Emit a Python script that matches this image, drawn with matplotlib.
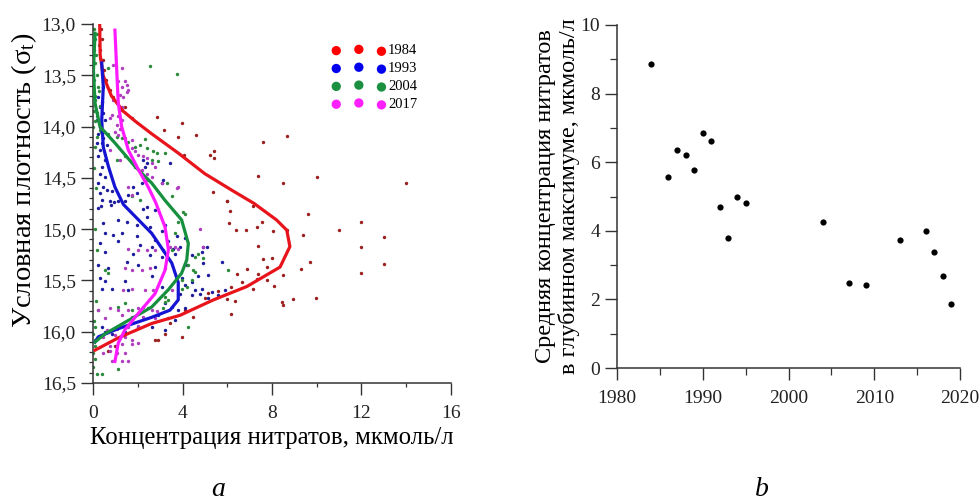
import matplotlib.pyplot as plt
from matplotlib.ticker import MultipleLocator, FuncFormatter

plt.rcParams['font.family'] = ['Liberation Serif', 'DejaVu Serif']
plt.rcParams['mathtext.fontset'] = 'stix'

# ---- panel a: curves (concentration x, density y) ----
red_line_y = [13.0, 13.3, 13.5, 13.7, 13.85, 13.95, 14.07, 14.26, 14.46, 14.62, 14.75, 14.91,
              15.01, 15.17, 15.37, 15.56, 15.69, 15.84, 15.92, 16.06, 16.18]
red_line_x = [0.3, 0.32, 0.45, 0.82, 1.35, 1.9, 2.62, 3.82, 5.0, 6.2, 7.2, 8.2,
              8.66, 8.8, 8.36, 6.87, 5.38, 3.89, 2.62, 1.13, 0.09]
blue_line_y = [13.38, 13.61, 13.94, 14.2, 14.39, 14.59, 14.76, 15.04, 15.33, 15.52, 15.69,
               15.79, 15.86, 15.97, 16.05, 16.1]
blue_line_x = [0.39, 0.46, 0.39, 0.46, 0.69, 0.98, 1.36, 2.62, 3.52, 3.81, 3.81,
               3.44, 2.62, 1.13, 0.24, 0.09]
green_line_y = [13.09, 13.45, 13.77, 14.0, 14.16, 14.39, 14.55, 14.72, 14.91, 15.14, 15.3,
                15.43, 15.59, 15.76, 15.89, 16.02, 16.1]
green_line_x = [0.09, 0.02, 0.09, 0.31, 0.98, 1.88, 2.62, 3.22, 3.96, 4.26, 4.19,
                3.96, 3.37, 2.62, 1.58, 0.54, 0.09]
mag_line_y = [13.06, 13.45, 13.77, 14.0, 14.23, 14.42, 14.59, 14.74, 14.98, 15.2, 15.4,
              15.63, 15.82, 15.98, 16.11, 16.29]
mag_line_x = [0.98, 1.06, 1.13, 1.28, 1.58, 2.03, 2.47, 2.8, 3.22, 3.37, 3.22,
              2.77, 2.03, 1.43, 1.13, 0.98]

# ---- panel a: measurements ----
red_x = [0.35, 0.4, 0.3, 0.45, 0.5, 0.6, 0.76, 0.91, 1.28, 1.43, 1.73, 2.85, 3.19, 3.99, 3.82,
         4.59, 5.23, 5.41, 5.41, 4.08, 7.62, 7.39, 5.38, 5.98, 8.69, 13.99, 9.99, 8.48,
         6.12, 7.16, 9.6, 6.09, 7.57, 11.99, 6.37, 6.82, 7.31, 8.06, 8.66, 10.99, 9.37, 12.99,
         7.39, 11.99, 7.6, 7.99, 9.7, 12.99, 6.87, 7.76, 9.31, 6.45, 7.39, 8.51, 11.99,
         6.64, 7.31, 7.76, 8.1, 6.16, 7.16, 5.15, 5.97, 6.34, 8.96, 9.97, 8.43, 8.51, 6.16,
         5.0, 5.6, 4.48, 3.43, 2.76, 3.96, 4.11, 3.22, 2.92, 0.98, 0.69, 5.97]
red_y = [13.05, 13.15, 13.25, 13.35, 13.45, 13.55, 13.64, 13.71, 13.84, 13.81, 13.92, 13.91,
         14.03, 13.97, 14.1, 14.08, 14.28, 14.24, 14.31, 14.28, 14.15, 14.48, 14.64, 14.73,
         14.09, 14.55, 14.49, 14.55, 14.82, 14.77, 14.85, 14.94, 14.93, 14.93, 15.01, 15.01,
         14.98, 15.02, 15.01, 15.01, 15.06, 15.08, 15.16, 15.17, 15.29, 15.28, 15.32, 15.34,
         15.39, 15.37, 15.39, 15.44, 15.44, 15.45, 15.43, 15.52, 15.49, 15.5, 15.55, 15.56,
         15.58, 15.62, 15.68, 15.7, 15.68, 15.67, 15.71, 15.74, 15.83, 15.67, 15.6, 15.86,
         15.92, 16.08, 16.05, 15.79, 16.02, 16.08, 16.14, 16.19, 14.73]

blue_x = [0.39, 0.46, 0.24, 0.39, 0.31, 0.46, 0.54, 0.16, 0.31, 0.24, 0.46, 0.16, 0.39, 0.61,
          0.31, 0.24, 0.54, 0.39, 0.31, 0.54, 0.24, 0.46, 0.61, 0.31, 0.83, 0.39, 0.76, 1.13,
          2.25, 2.4, 2.32, 3.44, 3.14, 3.07, 2.18, 1.8, 1.95, 1.58, 1.43,
          0.24, 0.36, 0.8, 0.95, 2.25, 2.4, 2.77, 2.4, 1.13, 1.51, 0.46, 1.95, 2.55, 3.07, 3.22,
          0.54, 0.91, 1.28, 1.95, 2.77, 3.37, 3.74, 4.11, 0.31, 1.13, 2.1, 2.62, 3.14, 3.59,
          3.89, 4.93, 5.08, 0.54, 1.8, 2.55, 3.07, 3.67, 4.41, 4.86, 0.24, 0.69, 1.51, 2.03,
          2.77, 4.19, 4.93, 5.75, 0.31, 0.54, 1.43, 2.62, 3.96, 4.71, 5.16, 0.39, 0.83, 1.58,
          3.07, 4.11, 4.41, 4.56, 4.86, 5.31, 5.9, 3.89, 4.41, 4.78, 5.16, 5.6, 3.22, 3.52,
          3.81, 4.11, 2.92, 3.37, 3.67, 2.62, 3.22, 0.39, 0.54, 0.24, 0.83, 1.43, 2.03]
blue_y = [13.48, 13.61, 13.71, 13.76, 13.81, 13.87, 13.94, 13.94, 14.0, 14.07, 14.11, 14.16,
          14.16, 14.18, 14.23, 14.29, 14.33, 14.39, 14.46, 14.49, 14.55, 14.59, 14.62, 14.65,
          14.63, 14.72, 14.73, 14.73, 14.33, 14.36, 14.39, 14.36, 14.52, 14.55, 14.55, 14.59,
          14.65, 14.67, 14.73,
          14.79, 14.77, 14.76, 14.74, 14.8, 14.78, 14.81, 14.88, 14.91, 14.93, 14.94, 14.96,
          14.98, 15.02, 14.96, 15.04, 15.06, 15.04, 15.07, 15.11, 15.12, 15.07, 15.09, 15.14,
          15.12, 15.15, 15.17, 15.2, 15.19, 15.17, 15.17, 15.17, 15.22, 15.24, 15.25, 15.27,
          15.24, 15.25, 15.22, 15.35, 15.38, 15.32, 15.35, 15.37, 15.35, 15.33, 15.32, 15.48,
          15.51, 15.51, 15.46, 15.48, 15.46, 15.45, 15.58, 15.58, 15.59, 15.56, 15.54, 15.52,
          15.59, 15.58, 15.61, 15.59, 15.63, 15.64, 15.63, 15.67, 15.64, 15.72, 15.76, 15.79,
          15.77, 15.84, 15.87, 15.89, 15.95, 15.98, 15.95, 16.0, 16.05, 16.02, 16.0, 15.95]

green_x = [2.55, 3.74, 0.69, 0.24, 0.09, 0.16, 0.01, 0.31, 0.69, 1.06, 1.28, 1.58, 1.88, 2.32,
           2.1, 2.4, 2.7, 2.85, 3.22, 2.62, 2.92, 3.29, 3.52, 2.1, 1.73, 1.06, 1.43, 1.88,
           0.05, 0.2, 0.1, 0.25, 0.05, 0.15, 0.3, 0.1, 0.2, 0.05, 0.25, 0.1, 0.3, 0.05, 0.2,
           0.1, 0.35, 0.2, 0.1, 0.05, 0.15, 0.1, 0.2, 0.15, 0.05,
           4.04, 4.11, 3.81, 3.67, 3.52, 4.56, 4.71, 4.93, 4.26, 4.49, 4.56, 6.05, 3.96, 4.41,
           0.54, 0.69, 3.96, 4.19, 1.13, 1.43, 2.25, 2.47, 3.22, 3.37, 3.22, 0.24, 1.73, 3.14,
           4.26, 0.09, 0.01, 0.09, 0.09, 0.01, 0.09, 0.01, 0.16, 0.39, 1.13]
green_y = [13.41, 13.49, 13.43, 13.61, 13.74, 13.87, 14.0, 14.03, 14.07, 14.1, 14.11, 14.15,
           14.2, 14.12, 14.18, 14.21, 14.24, 14.26, 14.26, 14.33, 14.34, 14.55, 14.68, 14.72,
           14.68, 14.33, 14.29, 14.39,
           13.05, 13.1, 13.15, 13.2, 13.25, 13.3, 13.33, 13.38, 13.5, 13.55, 13.65, 13.7,
           13.8, 13.85, 13.9, 13.95, 14.05, 14.1, 14.2, 14.4, 14.6, 15.0, 15.2, 15.7, 15.9,
           14.83, 14.85, 14.93, 15.04, 15.2, 15.27, 15.24, 15.28, 15.35, 15.4, 15.42, 15.4,
           15.5, 15.5, 15.4, 15.43, 15.58, 15.56, 15.76, 15.72, 15.76, 15.77, 15.71, 15.69,
           15.66, 15.79, 15.79, 15.77, 15.95, 15.95, 16.02, 16.08, 16.14, 16.21, 16.27, 16.34,
           16.41, 16.41, 16.36]

mag_x = [0.91, 1.28, 1.13, 1.43, 1.51, 1.28, 1.58, 1.51, 1.21, 1.36, 0.91, 1.06, 1.28, 0.76,
         0.83, 1.13, 1.28, 1.06, 1.21, 0.98, 1.13, 1.43, 1.73, 1.73, 1.88, 2.03, 2.25, 2.4,
         2.62, 2.77, 2.18, 2.4, 2.62, 3.07, 3.82, 3.74, 1.58, 1.73, 2.4, 0.76, 1.21,
         1.58, 2.03, 2.4, 2.77, 1.43, 1.73, 2.18, 2.55, 3.22, 1.36, 1.73, 2.32, 2.7, 3.52,
         0.24, 0.76, 1.13, 1.58, 2.03, 2.62, 2.85, 0.54, 1.28, 1.73, 2.25, 2.77, 0.61, 1.06,
         1.58, 2.03, 0.46, 0.98, 1.43, 1.73, 2.03, 0.76, 1.28, 1.73, 0.46, 0.76, 1.06, 1.43,
         0.83, 1.28, 1.58, 3.67, 3.81, 3.44, 4.78, 4.93]
mag_y = [13.4, 13.43, 13.56, 13.56, 13.59, 13.61, 13.64, 13.66, 13.69, 13.71, 13.74, 13.77,
         13.81, 13.92, 13.89, 13.9, 13.94, 13.98, 14.02, 14.05, 14.08, 14.11, 14.13, 14.21,
         14.24, 14.28, 14.29, 14.31, 14.36, 14.39, 14.42, 14.46, 14.49, 14.55, 14.59, 14.6,
         14.59, 14.67, 14.52, 14.23, 14.33,
         15.19, 15.2, 15.2, 15.2, 15.38, 15.4, 15.4, 15.38, 15.38, 15.59, 15.58, 15.59, 15.59,
         15.59, 15.79, 15.77, 15.79, 15.79, 15.77, 15.79, 15.8, 15.87, 15.84, 15.86, 15.86,
         15.87, 15.98, 15.97, 15.95, 15.94, 16.05, 16.03, 16.05, 16.08, 16.11, 16.14, 16.12,
         16.12, 16.21, 16.19, 16.21, 16.21, 16.29, 16.29, 16.29, 15.17, 15.19, 15.17, 15.0,
         15.17]

years_leg = ['1984', '1993', '2004', '2017']

# ---- panel b ----
years = [1984, 1986, 1987, 1988, 1989, 1990, 1991, 1992, 1993, 1994, 1995,
         2004, 2007, 2009, 2013, 2016, 2017, 2018, 2019]
mean_no3 = [8.85, 5.57, 6.35, 6.2, 5.77, 6.84, 6.63, 4.69, 3.78, 5.0, 4.82,
            4.26, 2.48, 2.41, 3.74, 3.98, 3.37, 2.69, 1.88]

fig = plt.figure(figsize=(9.8, 5.04), dpi=100)
ax1 = fig.add_axes([0.0949, 0.2401, 0.3653, 0.7123])
ax2 = fig.add_axes([0.6296, 0.2698, 0.35, 0.6806])

pts = [(red_x, red_y, '#9a2020'), (blue_x, blue_y, '#1c1c9c'),
       (green_x, green_y, '#2a8a3a'), (mag_x, mag_y, '#b03cc0')]
for xs, ys, c in pts:
    ax1.scatter(xs, ys, s=6, color=c, linewidths=0, zorder=2)

lines = [(red_line_x, red_line_y, '#e8141c'), (blue_line_x, blue_line_y, '#1414d2'),
         (green_line_x, green_line_y, '#16903e'), (mag_line_x, mag_line_y, '#ff1aff')]
for xs, ys, c in lines:
    ax1.plot(xs, ys, color=c, lw=2.3, zorder=3, solid_joinstyle='round')

leg_cols = ['#ff0000', '#0000ee', '#1a9040', '#ff20ff']
handles = [ax1.scatter([], [], s=45, color=c, linewidths=0) for c in leg_cols]
ax1.legend(handles, years_leg, scatterpoints=3, loc='upper right', bbox_to_anchor=(0.935, 0.972),
           frameon=False, fontsize=10.5, handlelength=3.7, handletextpad=0.15,
           labelspacing=0.32, borderpad=0.2)

ax1.set_xlim(0, 16)
ax1.set_ylim(16.5, 13.0)
ax1.xaxis.set_major_locator(MultipleLocator(4))
ax1.xaxis.set_minor_locator(MultipleLocator(2))
ax1.yaxis.set_major_locator(MultipleLocator(0.5))
ax1.yaxis.set_minor_locator(MultipleLocator(0.1))
ax1.yaxis.set_major_formatter(FuncFormatter(lambda v, p: f'{v:.1f}'.replace('.', ',')))
ax1.set_xlabel('Концентрация нитратов, мкмоль/л', fontsize=17.8, labelpad=4)
ax1.set_ylabel(r'Условная плотность ($\mathregular{\sigma_t}$)', fontsize=20.5)
ax1.yaxis.set_label_coords(-0.152, 0.565)

ax2.scatter(years, mean_no3, s=20, color='black', linewidths=0)
ax2.set_xlim(1980, 2020)
ax2.set_ylim(0, 10)
ax2.xaxis.set_major_locator(MultipleLocator(10))
ax2.xaxis.set_minor_locator(MultipleLocator(5))
ax2.yaxis.set_major_locator(MultipleLocator(2))
ax2.yaxis.set_minor_locator(MultipleLocator(1))
ax2.set_ylabel('Средняя концентрация нитратов\nв глубинном максимуме, мкмоль/л',
               fontsize=17.5, linespacing=1.12, labelpad=0.5)

for ax, mlen in ((ax1, 3.2), (ax2, 5)):
    for s in ('top', 'right'):
        ax.spines[s].set_visible(False)
    for s in ('left', 'bottom'):
        ax.spines[s].set_linewidth(1.1)
        ax.spines[s].set_color('#333333')
    ax.tick_params(which='major', direction='out', length=8.3, width=1.0, labelsize=14,
                   color='#333333', labelcolor='#222222')
    ax.tick_params(axis='x', which='major', pad=7.5)
    ax.tick_params(axis='y', which='major', pad=4)
    ax.tick_params(which='minor', direction='out', length=mlen, width=0.9, color='#333333')
    ax.set_facecolor('none')

fig.text(218 / 980, 0.003, 'a', fontsize=20, style='italic', ha='center', va='bottom')
fig.text(762 / 980, 0.003, 'b', fontsize=20, style='italic', ha='center', va='bottom')

fig.savefig('out.png', dpi=100, facecolor='white')
